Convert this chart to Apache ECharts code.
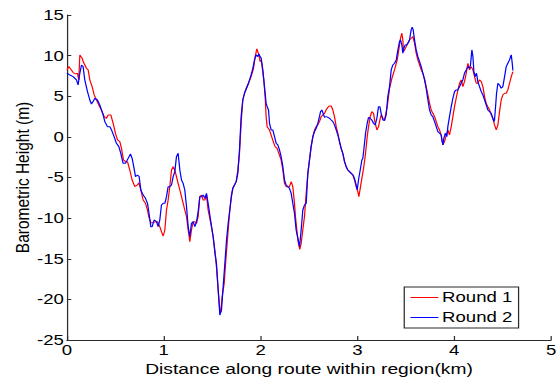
<!DOCTYPE html>
<html>
<head>
<meta charset="utf-8">
<script src="https://cdn.jsdelivr.net/npm/echarts@6/dist/echarts.min.js"></script>
<style>
  html, body { margin: 0; padding: 0; background: #fff; overflow: hidden; }
  #frame { width: 558px; height: 380px; overflow: hidden; }
  /* the figure is laid out narrow and widened, giving the broad MATLAB-export lettering */
  #chart { width: 450px; height: 380px; transform: scaleX(1.24); transform-origin: 0 0; }
</style>
</head>
<body>
<div id="frame"><div id="chart"></div></div>
<script>
// Barometric height profile along the route, two rounds over the same region.
const seriesNames = ['Round 1', 'Round 2'];
const xTicks = [0, 1, 2, 3, 4, 5];
const yTicks = [-25, -20, -15, -10, -5, 0, 5, 10, 15];

// Round 1: distance (km) and barometric height (m)
const round1Km = [
  0.000, 0.019, 0.040, 0.064, 0.088, 0.108, 0.122, 0.133, 0.157, 0.167, 0.201, 0.219, 0.236, 0.260, 0.281, 0.305,
  0.329, 0.356, 0.384, 0.408, 0.425, 0.453, 0.477, 0.501, 0.522, 0.546, 0.563, 0.584, 0.604, 0.625, 0.649, 0.673,
  0.701, 0.728, 0.742, 0.763, 0.787, 0.811, 0.832, 0.845, 0.866, 0.890, 0.914, 0.935, 0.959, 0.976, 0.994, 1.011,
  1.028, 1.045, 1.062, 1.080, 1.097, 1.114, 1.131, 1.148, 1.166, 1.183, 1.200, 1.217, 1.235, 1.252, 1.269, 1.286,
  1.303, 1.321, 1.338, 1.355, 1.372, 1.390, 1.407, 1.424, 1.441, 1.458, 1.486, 1.510, 1.527, 1.544, 1.562, 1.579,
  1.589, 1.603, 1.624, 1.641, 1.665, 1.682, 1.699, 1.713, 1.748, 1.765, 1.782, 1.799, 1.816, 1.834, 1.851, 1.875,
  1.902, 1.927, 1.944, 1.961, 1.971, 1.982, 1.995, 2.006, 2.016, 2.033, 2.047, 2.057, 2.068, 2.092, 2.109, 2.137,
  2.150, 2.171, 2.188, 2.212, 2.230, 2.247, 2.264, 2.281, 2.298, 2.316, 2.333, 2.350, 2.360, 2.378, 2.391, 2.405,
  2.419, 2.436, 2.453, 2.471, 2.488, 2.505, 2.522, 2.540, 2.557, 2.574, 2.591, 2.608, 2.626, 2.643, 2.660, 2.677,
  2.695, 2.712, 2.729, 2.746, 2.763, 2.781, 2.798, 2.815, 2.832, 2.849, 2.867, 2.884, 2.901, 2.918, 2.936, 2.953,
  2.970, 2.987, 3.004, 3.015, 3.032, 3.049, 3.066, 3.084, 3.101, 3.115, 3.132, 3.149, 3.166, 3.184, 3.201, 3.218,
  3.232, 3.245, 3.263, 3.280, 3.308, 3.332, 3.356, 3.383, 3.411, 3.425, 3.445, 3.459, 3.469, 3.476, 3.487, 3.504,
  3.521, 3.538, 3.555, 3.573, 3.590, 3.607, 3.624, 3.642, 3.659, 3.676, 3.693, 3.710, 3.728, 3.745, 3.762, 3.779,
  3.797, 3.814, 3.831, 3.848, 3.865, 3.883, 3.900, 3.917, 3.934, 3.951, 3.969, 3.986, 4.003, 4.020, 4.038, 4.055,
  4.072, 4.089, 4.106, 4.124, 4.141, 4.158, 4.175, 4.193, 4.210, 4.227, 4.244, 4.261, 4.279, 4.296, 4.313, 4.330,
  4.347, 4.365, 4.382, 4.399, 4.416, 4.434, 4.451, 4.468, 4.485, 4.502, 4.520, 4.537, 4.554, 4.571, 4.589, 4.606
];
const round1Height = [
  8.24, 8.65, 8.32, 7.91, 7.75, 7.83, 7.01, 10.09, 9.68, 9.27, 8.44, 8.24, 7.01, 6.19, 5.16, 4.54,
  3.93, 3.31, 2.49, 2.29, 2.70, 2.70, 1.67, 0.44, -0.38, -0.59, -1.41, -2.84, -3.05, -3.05, -4.08, -5.31,
  -6.13, -5.92, -5.64, -6.54, -7.77, -8.18, -9.00, -9.82, -10.56, -10.56, -10.44, -10.44, -11.05, -11.67, -12.20, -11.46,
  -9.00, -7.77, -6.13, -4.08, -3.67, -4.08, -4.90, -5.72, -6.54, -7.36, -8.18, -9.00, -9.82, -11.46, -12.90, -11.46,
  -10.44, -10.44, -10.64, -9.82, -7.36, -7.16, -7.77, -7.77, -7.16, -9.00, -10.64, -12.29, -13.93, -15.98, -18.85, -21.32,
  -21.52, -19.68, -18.03, -15.16, -11.46, -9.00, -7.36, -6.33, -5.51, -4.08, -2.02, 1.67, 4.54, 5.37, 5.98, 6.60,
  7.42, 8.44, 9.88, 10.83, 10.50, 10.09, 9.27, 9.47, 8.65, 7.01, 4.95, 2.49, 1.26, 0.85, 0.23, -0.79,
  -1.20, -1.41, -2.02, -2.84, -4.08, -5.72, -6.13, -6.13, -6.13, -5.51, -6.13, -8.18, -9.82, -11.88, -13.11, -13.85,
  -13.11, -11.46, -9.82, -6.95, -4.49, -2.84, -1.20, 0.03, 0.85, 1.26, 1.47, 1.88, 2.49, 2.70, 2.90, 3.31,
  3.64, 3.81, 3.81, 3.31, 2.49, 1.26, 0.44, -0.59, -1.41, -2.02, -3.05, -3.67, -4.08, -4.28, -4.49, -4.69,
  -5.31, -6.13, -6.74, -7.36, -6.13, -4.90, -3.67, -2.02, 0.03, 1.26, 2.49, 3.11, 2.90, 1.67, 0.85, 1.26,
  2.08, 2.70, 2.29, 2.08, 3.73, 5.98, 7.21, 8.24, 9.47, 10.50, 12.14, 12.76, 11.93, 10.50, 10.70, 11.11,
  11.52, 11.93, 12.14, 12.35, 11.52, 10.29, 9.47, 8.85, 8.24, 7.83, 7.21, 6.19, 5.16, 4.13, 3.31, 2.90,
  2.49, 1.88, 1.26, 0.85, 0.23, -0.98, -0.59, 0.23, 0.85, 0.23, 1.26, 2.49, 3.73, 4.75, 5.78, 6.60,
  7.01, 6.19, 6.80, 7.83, 9.06, 8.24, 8.65, 8.24, 7.42, 6.60, 6.60, 7.01, 6.80, 6.19, 4.96, 4.13,
  3.73, 3.31, 2.70, 2.29, 1.47, 0.85, 1.47, 3.11, 4.54, 5.16, 5.37, 5.37, 5.78, 6.60, 7.42, 8.03
];

// Round 2: distance (km) and barometric height (m)
const round2Km = [
  0.000, 0.029, 0.064, 0.098, 0.115, 0.133, 0.150, 0.167, 0.184, 0.212, 0.236, 0.253, 0.270, 0.288, 0.315, 0.339,
  0.356, 0.374, 0.391, 0.418, 0.443, 0.460, 0.487, 0.511, 0.536, 0.556, 0.580, 0.604, 0.632, 0.656, 0.673, 0.690,
  0.708, 0.728, 0.746, 0.763, 0.787, 0.811, 0.832, 0.845, 0.866, 0.880, 0.900, 0.925, 0.942, 0.959, 0.976, 0.994,
  1.011, 1.028, 1.045, 1.062, 1.080, 1.097, 1.114, 1.131, 1.148, 1.166, 1.183, 1.200, 1.217, 1.235, 1.252, 1.269,
  1.286, 1.303, 1.321, 1.338, 1.355, 1.372, 1.390, 1.407, 1.424, 1.441, 1.458, 1.486, 1.510, 1.527, 1.544, 1.562,
  1.579, 1.596, 1.613, 1.631, 1.648, 1.665, 1.682, 1.699, 1.713, 1.748, 1.765, 1.782, 1.799, 1.816, 1.834, 1.851,
  1.875, 1.902, 1.920, 1.937, 1.954, 1.971, 1.982, 1.995, 2.006, 2.023, 2.040, 2.057, 2.068, 2.082, 2.092, 2.109,
  2.126, 2.144, 2.161, 2.178, 2.195, 2.212, 2.230, 2.247, 2.264, 2.281, 2.298, 2.316, 2.333, 2.350, 2.367, 2.385,
  2.402, 2.419, 2.436, 2.453, 2.471, 2.488, 2.505, 2.522, 2.540, 2.557, 2.574, 2.591, 2.608, 2.619, 2.633, 2.646,
  2.660, 2.677, 2.695, 2.712, 2.729, 2.746, 2.763, 2.781, 2.798, 2.815, 2.832, 2.849, 2.867, 2.884, 2.901, 2.918,
  2.936, 2.953, 2.970, 2.987, 2.998, 3.011, 3.029, 3.046, 3.056, 3.066, 3.084, 3.101, 3.115, 3.132, 3.149, 3.166,
  3.184, 3.201, 3.218, 3.232, 3.245, 3.263, 3.280, 3.297, 3.314, 3.332, 3.349, 3.366, 3.383, 3.401, 3.418, 3.435,
  3.445, 3.459, 3.469, 3.480, 3.493, 3.507, 3.521, 3.538, 3.555, 3.566, 3.576, 3.590, 3.607, 3.624, 3.642, 3.659,
  3.676, 3.693, 3.710, 3.728, 3.745, 3.762, 3.779, 3.797, 3.814, 3.831, 3.848, 3.865, 3.872, 3.883, 3.893, 3.907,
  3.924, 3.934, 3.951, 3.969, 3.986, 4.003, 4.020, 4.038, 4.055, 4.072, 4.089, 4.106, 4.124, 4.141, 4.158, 4.168,
  4.182, 4.193, 4.203, 4.217, 4.230, 4.244, 4.261, 4.279, 4.296, 4.313, 4.330, 4.347, 4.365, 4.382, 4.399, 4.409,
  4.416, 4.427, 4.437, 4.451, 4.468, 4.485, 4.502, 4.520, 4.537, 4.554, 4.571, 4.582, 4.589, 4.599, 4.606
];
const round2Height = [
  7.83, 7.62, 7.42, 7.01, 6.39, 7.83, 8.85, 8.65, 7.01, 5.57, 4.54, 4.05, 4.34, 4.75, 4.54, 3.93,
  3.31, 2.70, 1.88, 1.26, 1.26, 0.85, 0.03, -0.79, -1.20, -2.02, -3.26, -3.26, -2.64, -2.11, -2.64, -3.67,
  -4.90, -4.69, -4.90, -6.54, -7.16, -7.56, -8.18, -9.21, -11.05, -11.05, -10.23, -10.44, -11.05, -10.23, -8.39, -8.18,
  -8.18, -7.36, -6.13, -6.13, -5.92, -4.90, -4.28, -2.43, -2.02, -4.08, -5.31, -5.72, -6.54, -8.59, -11.05, -12.29,
  -10.64, -10.44, -11.05, -10.44, -9.21, -7.36, -7.36, -7.16, -7.56, -6.95, -8.18, -10.44, -12.29, -14.13, -15.57, -18.85,
  -21.93, -21.32, -18.44, -15.57, -12.70, -10.64, -9.00, -7.16, -6.33, -5.51, -4.49, -1.61, 2.49, 4.54, 5.37, 5.86,
  6.60, 7.62, 8.44, 9.47, 10.09, 9.88, 10.21, 9.88, 9.68, 8.24, 6.19, 4.13, 3.72, 3.31, 1.67, 0.85,
  0.85, 0.03, -0.79, -0.99, -1.61, -2.43, -3.67, -5.31, -5.92, -6.13, -6.33, -6.95, -8.18, -9.41, -11.46, -12.49,
  -13.52, -11.46, -9.00, -8.39, -8.18, -4.49, -2.84, -1.20, 0.03, 0.64, 1.06, 1.67, 2.49, 3.11, 3.31, 2.90,
  2.41, 2.49, 2.41, 2.29, 2.08, 1.88, 1.47, 0.85, 0.23, -0.59, -1.41, -2.02, -3.05, -3.67, -4.08, -4.28,
  -4.49, -4.69, -5.10, -5.92, -6.54, -5.31, -4.08, -2.84, -2.64, -1.61, 0.44, 1.67, 2.41, 2.29, 2.08, 1.67,
  1.47, 2.29, 3.72, 3.72, 2.90, 2.08, 2.00, 2.70, 4.96, 6.19, 8.24, 8.85, 9.06, 9.47, 10.70, 11.73,
  11.93, 11.32, 10.29, 10.91, 11.32, 11.32, 11.52, 11.93, 13.17, 13.49, 13.17, 11.93, 10.70, 9.88, 9.27, 8.65,
  7.83, 7.01, 5.98, 4.54, 3.31, 2.70, 2.49, 1.88, 1.26, 0.65, 0.44, 0.23, -0.38, -0.98, -0.18, 0.44,
  0.03, 1.26, 2.49, 3.73, 4.75, 5.57, 5.78, 5.78, 6.19, 6.60, 7.01, 7.83, 8.24, 8.65, 8.44, 8.85,
  10.70, 9.88, 8.03, 7.42, 7.83, 6.80, 6.19, 5.57, 5.16, 4.54, 3.93, 3.31, 3.11, 2.90, 2.29, 1.88,
  2.08, 3.73, 5.37, 6.60, 6.39, 5.98, 6.19, 7.42, 8.65, 9.06, 9.47, 9.88, 10.09, 9.06, 8.16
];

function pairs(xs, ys) {
  return xs.map((x, i) => [x, ys[i]]);
}

const FONT = '"Liberation Sans", Arial, sans-serif';
const AXIS_COLOR = '#2b2b2b';

const chart = echarts.init(document.getElementById('chart'), null, { renderer: 'svg' });

chart.setOption({
  animation: false,
  backgroundColor: '#ffffff',
  textStyle: { fontFamily: FONT },
  grid: { left: 54, right: 5.6, top: 15, bottom: 40, containLabel: false, outerBoundsMode: 'none' },
  xAxis: {
    type: 'value',
    min: xTicks[0],
    max: xTicks[xTicks.length - 1],
    interval: 1,
    name: 'Distance along route within region(km)',
    nameLocation: 'middle',
    nameGap: 21.5,
    nameMoveOverlap: false,
    nameTextStyle: { fontSize: 15.5, lineHeight: 15, color: '#000', fontFamily: FONT },
    axisLine: { show: true, onZero: false, lineStyle: { color: AXIS_COLOR, width: 1 } },
    axisTick: { show: true, inside: true, length: 4, lineStyle: { color: AXIS_COLOR } },
    axisLabel: { fontSize: 15, lineHeight: 14, color: '#000', margin: 3.5, fontFamily: FONT },
    splitLine: { show: false }
  },
  yAxis: {
    type: 'value',
    min: yTicks[0],
    max: yTicks[yTicks.length - 1],
    interval: 5,
    name: 'Barometric Height (m)',
    nameLocation: 'middle',
    nameGap: 28,
    nameMoveOverlap: false,
    nameTextStyle: { fontSize: 15.5, color: '#000', fontFamily: FONT },
    axisLine: { show: true, onZero: false, lineStyle: { color: AXIS_COLOR, width: 1 } },
    axisTick: { show: true, inside: true, length: 3.5, lineStyle: { color: AXIS_COLOR } },
    axisLabel: { fontSize: 15, color: '#000', margin: 2.5, fontFamily: FONT },
    splitLine: { show: false }
  },
  legend: {
    data: seriesNames,
    orient: 'vertical',
    left: 326,
    top: 287,
    padding: [3, 5, 3, 5],
    itemGap: 5,
    itemWidth: 22.5,
    itemHeight: 1,
    icon: 'rect',
    borderColor: '#2b2b2b',
    borderWidth: 1,
    borderRadius: 0,
    backgroundColor: '#ffffff',
    textStyle: { fontSize: 15, color: '#000', fontFamily: FONT, padding: [0, 0, 0, -2] }
  },
  series: [
    {
      name: seriesNames[0],
      type: 'line',
      data: pairs(round1Km, round1Height),
      showSymbol: false,
      symbol: 'none',
      itemStyle: { color: '#ff0000' },
      lineStyle: { color: '#ff0000', width: 1 },
      z: 2
    },
    {
      name: seriesNames[1],
      type: 'line',
      data: pairs(round2Km, round2Height),
      showSymbol: false,
      symbol: 'none',
      itemStyle: { color: '#0000ff' },
      lineStyle: { color: '#0000ff', width: 1 },
      z: 3
    }
  ]
});
</script>
</body>
</html>
